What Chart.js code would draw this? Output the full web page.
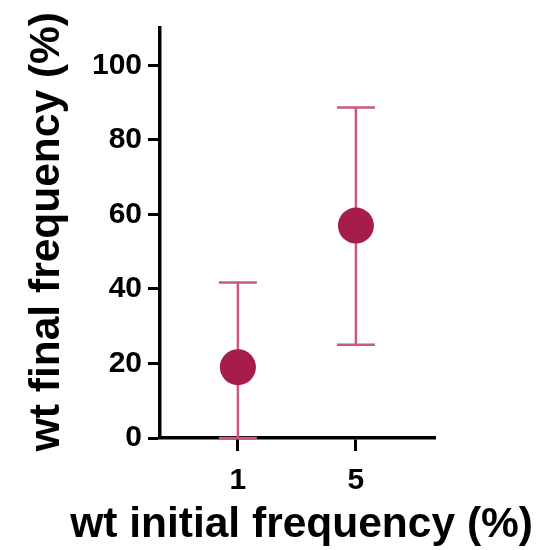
<!DOCTYPE html>
<html>
<head>
<meta charset="utf-8">
<script src="https://cdn.jsdelivr.net/npm/chart.js@4"></script>
<style>
html,body{margin:0;padding:0;background:#fff;}
#wrap{width:545px;height:550px;position:relative;}
</style>
</head>
<body>
<div id="wrap"><canvas id="c" width="545" height="550"></canvas></div>
<script>
const categories = ["1", "5"];
const means = [19, 57];
const lower = [0, 25];
const upper = [41.7, 88.7];
const yTicks = [0, 20, 40, 60, 80, 100];
const xTitle = "wt initial frequency (%)";
const yTitle = "wt final frequency (%)";

const pointColor = "#a61c4b";
const barColor = "#c95a7c";
const fontFamily = "'Liberation Sans', Arial, Helvetica, sans-serif";

const errorBars = {
  id: "errorBars",
  beforeDatasetsDraw(chart) {
    const ctx = chart.ctx;
    const xs = chart.scales.x, ys = chart.scales.y;
    ctx.save();
    ctx.strokeStyle = barColor;
    ctx.lineWidth = 2.5;
    const cap = 19;
    categories.forEach((c, i) => {
      const px = xs.getPixelForValue(i);
      const pLo = ys.getPixelForValue(lower[i]);
      const pHi = ys.getPixelForValue(upper[i]);
      ctx.beginPath();
      ctx.moveTo(px, pLo); ctx.lineTo(px, pHi);
      ctx.moveTo(px - cap, pLo); ctx.lineTo(px + cap, pLo);
      ctx.moveTo(px - cap, pHi); ctx.lineTo(px + cap, pHi);
      ctx.stroke();
    });
    ctx.restore();
  }
};

const hiddenAxis = (pos, size) => ({
  type: "linear",
  position: pos,
  display: true,
  grid: { display: false },
  border: { display: false },
  ticks: { display: false },
  afterFit(scale) { if (pos === "top") scale.height = size; else scale.width = size; }
});

new Chart(document.getElementById("c"), {
  type: "scatter",
  data: {
    datasets: [{
      data: categories.map((c, i) => ({ x: i, y: means[i] })),
      backgroundColor: pointColor,
      borderWidth: 0,
      pointRadius: 18,
      pointHoverRadius: 18
    }]
  },
  options: {
    responsive: false,
    animation: false,
    events: [],
    layout: { padding: { top: 12, right: 12, left: 0, bottom: 0 } },
    plugins: {
      legend: { display: false },
      tooltip: { enabled: false },
      title: {
        display: true,
        position: "left",
        align: "end",
        text: yTitle,
        color: "#000",
        padding: { top: 26, bottom: 0 },
        font: { family: fontFamily, size: 42.5, weight: "bold", lineHeight: 1 }
      },
      subtitle: {
        display: true,
        position: "bottom",
        align: "end",
        text: xTitle,
        color: "#000",
        padding: { top: 0, bottom: 3.5 },
        font: { family: fontFamily, size: 42.5, weight: "bold", lineHeight: 1 }
      }
    },
    scales: {
      x: {
        type: "linear",
        min: -0.66,
        max: 1.67,
        afterBuildTicks(scale) { scale.ticks = categories.map((c, i) => ({ value: i })); },
        afterFit(scale) { scale.height = 66; },
        ticks: {
          callback: (v) => categories[v],
          color: "#000",
          padding: 12,
          font: { family: fontFamily, size: 30, weight: "bold" }
        },
        grid: { drawOnChartArea: false, drawTicks: true, tickLength: 13, tickWidth: 3, tickColor: "#000" },
        border: { display: true, color: "#000", width: 3.5 }
      },
      y: {
        min: 0,
        max: 110,
        afterBuildTicks(scale) { scale.ticks = yTicks.map(v => ({ value: v })); },
        afterFit(scale) { scale.width = 91.5; },
        ticks: {
          color: "#000",
          padding: 6,
          font: { family: fontFamily, size: 30, weight: "bold" }
        },
        grid: { drawOnChartArea: false, drawTicks: true, tickLength: 12, tickWidth: 3, tickColor: "#000" },
        border: { display: true, color: "#000", width: 3.5 }
      },
      xTop: hiddenAxis("top", 16),
      yRight: hiddenAxis("right", 98)
    }
  },
  plugins: [errorBars]
});
</script>
</body>
</html>
